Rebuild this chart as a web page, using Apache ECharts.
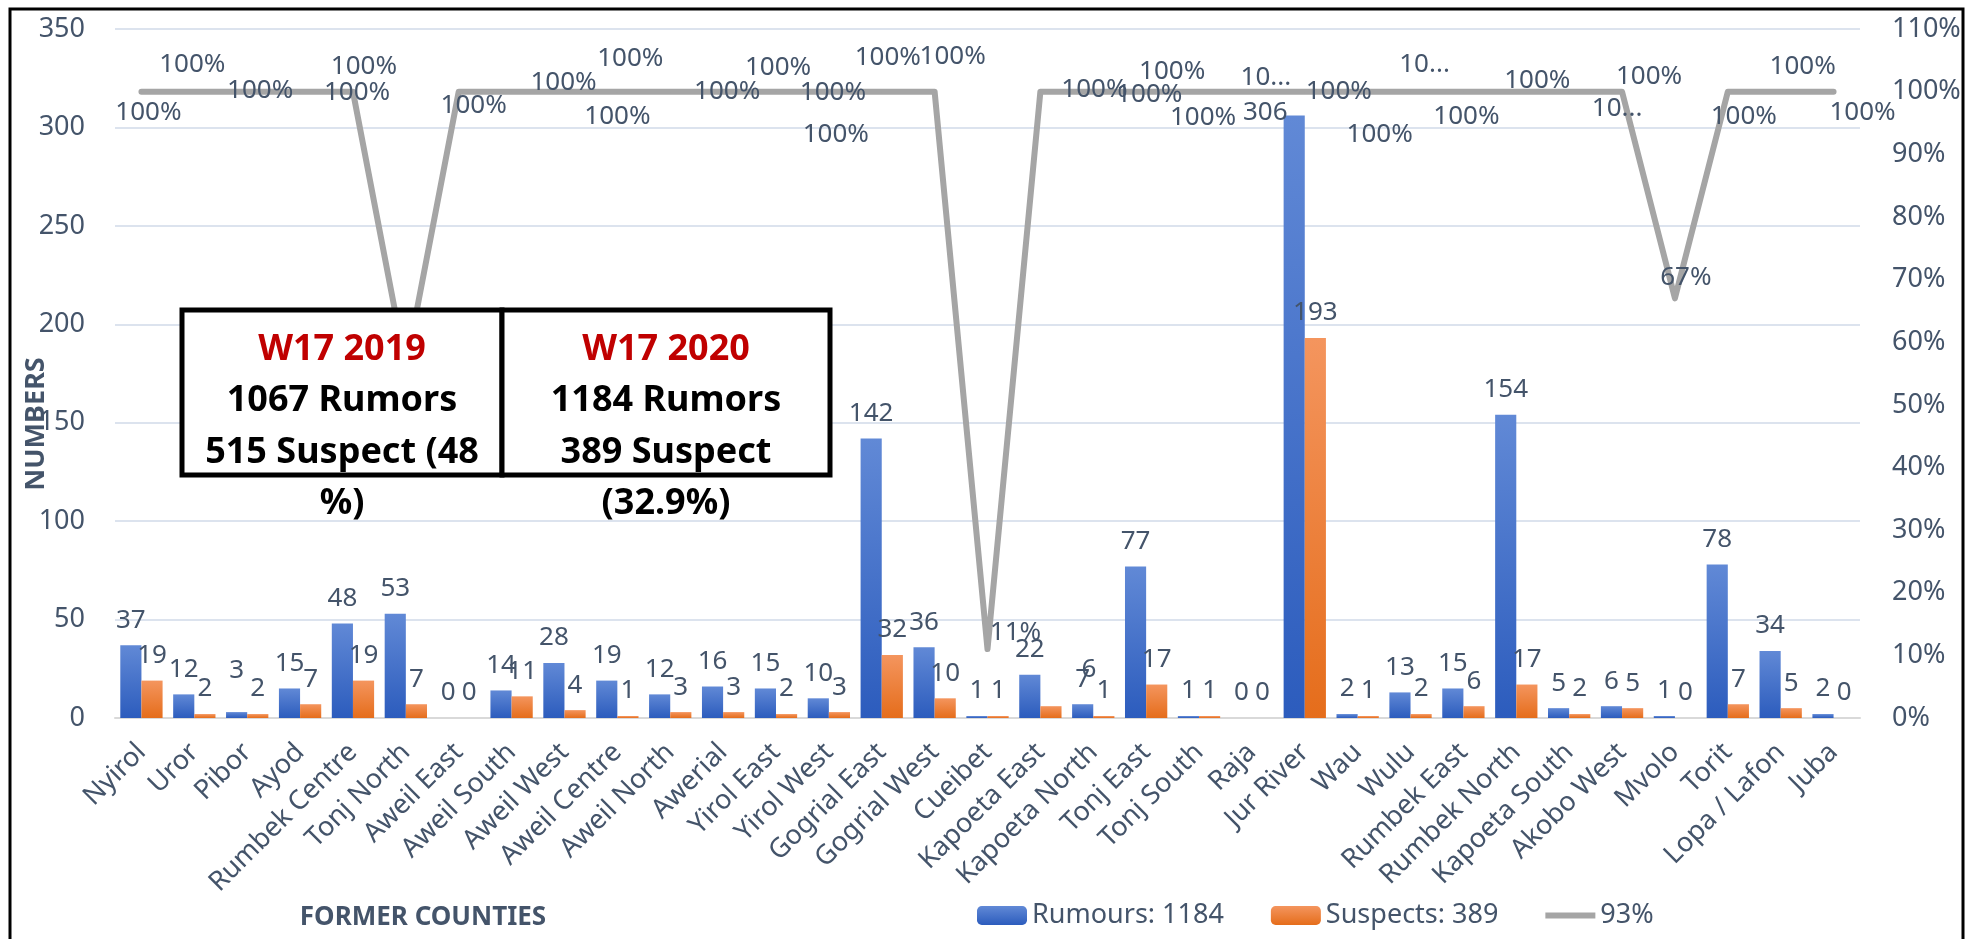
<!DOCTYPE html>
<html>
<head>
<meta charset="utf-8">
<script src="https://cdn.jsdelivr.net/npm/echarts@6/dist/echarts.min.js"></script>
<style>
html, body { margin: 0; padding: 0; background: #fff; }
#chart { width: 1967px; height: 939px; }
</style>
</head>
<body>
<div id="chart"></div>
<script>
// counties on the x axis
const categories = ['Nyirol', 'Uror', 'Pibor', 'Ayod', 'Rumbek Centre', 'Tonj North', 'Aweil East',
    'Aweil South', 'Aweil West', 'Aweil Centre', 'Aweil North', 'Awerial', 'Yirol East', 'Yirol West',
    'Gogrial East', 'Gogrial West', 'Cueibet', 'Kapoeta East', 'Kapoeta North', 'Tonj East', 'Tonj South',
    'Raja', 'Jur River', 'Wau', 'Wulu', 'Rumbek East', 'Rumbek North', 'Kapoeta South', 'Akobo West',
    'Mvolo', 'Torit', 'Lopa / Lafon', 'Juba'];
const rumours = [37, 12, 3, 15, 48, 53, 0, 14, 28, 19, 12, 16, 15, 10, 142, 36, 1, 22, 7, 77, 1, 0, 306, 2, 13, 15, 154, 5, 6, 1, 78, 34, 2];
const suspects = [19, 2, 2, 7, 19, 7, 0, 11, 4, 1, 3, 3, 2, 3, 32, 10, 1, 6, 1, 17, 1, 0, 193, 1, 2, 6, 17, 2, 5, 0, 7, 5, 0];
// percent line (right axis); Tonj North point sits behind the box
const percent = [100, 100, 100, 100, 100, 56, 100, 100, 100, 100, 100, 100, 100, 100, 100, 100, 11, 100, 100, 100, 100, 100, 100, 100, 100, 100, 100, 100, 100, 67, 100, 100, 100];
const leftTicks = { min: 0, max: 350, step: 50 };
const rightTicks = { min: 0, max: 110, step: 10 };

// label placement, kept apart from the values
const percentLabelOffset = [[7, 21], [-2, -27], [13, -1], [57, 1], [11, -25], [0, 0], [15, 14], [52, -9], [53, 25],
    [13, -33], [57, 0], [55, -24], [57, 1], [7, 43], [6, -34], [18, -35], [28, -17], [54, -2], [56, 3], [26, -20],
    [4, 26], [14, -14], [34, 0], [22, 43], [14, -27], [3, 25], [21, -11], [48, 17], [27, -15], [11, -21], [16, 25],
    [22, -25], [29, 21]];
const truncatedLabels = [21, 24, 27];
const rumourLabelShift = { 2: [0, -17], 22: [-29, 22] };
const suspectLabelShift = { 17: [38, -12] };

const FONT = 'Noto Sans';
const TXT = '#44546A';

const chart = echarts.init(document.getElementById('chart'));

function barItems(values, shifts) {
    return values.map(function (v, i) {
        if (shifts[i]) {
            return { value: v, label: { offset: shifts[i] } };
        }
        return v;
    });
}

const lineItems = percent.map(function (v, i) {
    return {
        value: v,
        label: {
            offset: percentLabelOffset[i],
            formatter: truncatedLabels.indexOf(i) >= 0 ? '10...' : v + '%'
        }
    };
});

const blueFill = new echarts.graphic.LinearGradient(0, 0, 0, 1, [
    { offset: 0, color: '#6189D6' },
    { offset: 1, color: '#2C5CBD' }
]);
const orangeFill = new echarts.graphic.LinearGradient(0, 0, 0, 1, [
    { offset: 0, color: '#F4955E' },
    { offset: 1, color: '#E56D1B' }
]);

function boxText(x, y, text, color) {
    return {
        type: 'text', z: 101, x: x, y: y,
        style: {
            text: text, fill: color, font: 'bold 36px "Noto Sans"',
            align: 'center', verticalAlign: 'middle'
        }
    };
}

const option = {
    backgroundColor: '#fff',
    animation: false,
    textStyle: { fontFamily: FONT },
    grid: { left: 115, right: 107, top: 29, bottom: 221, containLabel: false },
    legend: {
        left: 972,
        top: 897,
        itemWidth: 50,
        itemHeight: 19,
        itemGap: 47,
        textStyle: { color: TXT, fontSize: 27, fontFamily: FONT },
        data: [
            'Rumours: 1184',
            'Suspects: 389',
            { name: '93%', icon: 'path://M0,0 L57,0 L57,7 L0,7 Z' }
        ]
    },
    xAxis: {
        type: 'category',
        data: categories,
        axisTick: { show: false },
        axisLine: { lineStyle: { color: '#D9D9D9', width: 2 } },
        axisLabel: { interval: 0, rotate: 45, margin: 30, color: TXT, fontSize: 27, fontFamily: FONT }
    },
    yAxis: [
        {
            type: 'value',
            min: leftTicks.min,
            max: leftTicks.max,
            interval: leftTicks.step,
            axisLine: { show: false },
            axisTick: { show: false },
            axisLabel: { color: TXT, fontSize: 27, margin: 30, fontFamily: FONT },
            splitLine: { lineStyle: { color: '#DCE3EE', width: 2 } }
        },
        {
            type: 'value',
            min: rightTicks.min,
            max: rightTicks.max,
            interval: rightTicks.step,
            axisLine: { show: false },
            axisTick: { show: false },
            splitLine: { show: false },
            axisLabel: { color: TXT, fontSize: 27, margin: 32, formatter: '{value}%', fontFamily: FONT }
        }
    ],
    series: [
        {
            name: 'Rumours: 1184',
            type: 'bar',
            barGap: '0%',
            barCategoryGap: '20%',
            itemStyle: { color: blueFill },
            label: { show: true, position: 'top', distance: 12, color: TXT, fontSize: 26, fontFamily: FONT },
            data: barItems(rumours, rumourLabelShift)
        },
        {
            name: 'Suspects: 389',
            type: 'bar',
            itemStyle: { color: orangeFill },
            label: { show: true, position: 'top', distance: 12, color: TXT, fontSize: 26, fontFamily: FONT },
            data: barItems(suspects, suspectLabelShift)
        },
        {
            name: '93%',
            type: 'line',
            yAxisIndex: 1,
            symbol: 'circle',
            symbolSize: 1,
            showSymbol: true,
            itemStyle: { color: '#A5A5A5' },
            lineStyle: { color: '#A5A5A5', width: 6, cap: 'round', join: 'round' },
            label: { show: true, position: 'inside', color: TXT, fontSize: 26, fontFamily: FONT },
            data: lineItems
        }
    ],
    graphic: [
        {
            type: 'rect', z: 100, silent: true,
            shape: { x: 10, y: 9, width: 1953, height: 940 },
            style: { fill: null, stroke: '#000', lineWidth: 3 }
        },
        {
            type: 'rect', z: 100,
            shape: { x: 182, y: 310, width: 320, height: 165 },
            style: { fill: '#fff', stroke: '#000', lineWidth: 5 }
        },
        {
            type: 'rect', z: 100,
            shape: { x: 502, y: 310, width: 328, height: 165 },
            style: { fill: '#fff', stroke: '#000', lineWidth: 5 }
        },
        boxText(342, 350, 'W17 2019', '#C00000'),
        boxText(342, 401, '1067 Rumors', '#000'),
        boxText(342, 453, '515 Suspect (48', '#000'),
        boxText(342, 504, '%)', '#000'),
        boxText(666, 350, 'W17 2020', '#C00000'),
        boxText(666, 401, '1184 Rumors', '#000'),
        boxText(666, 453, '389 Suspect', '#000'),
        boxText(666, 504, '(32.9%)', '#000'),
        {
            type: 'text', z: 102, x: 36, y: 424, rotation: Math.PI / 2,
            style: {
                text: 'NUMBERS', fill: TXT, font: 'bold 27px "Noto Sans"',
                align: 'center', verticalAlign: 'middle'
            }
        },
        {
            type: 'text', z: 100, x: 423, y: 918,
            style: {
                text: 'FORMER COUNTIES', fill: TXT, font: 'bold 26px "Noto Sans"',
                align: 'center', verticalAlign: 'middle'
            }
        }
    ]
};

chart.setOption(option);
</script>
</body>
</html>
